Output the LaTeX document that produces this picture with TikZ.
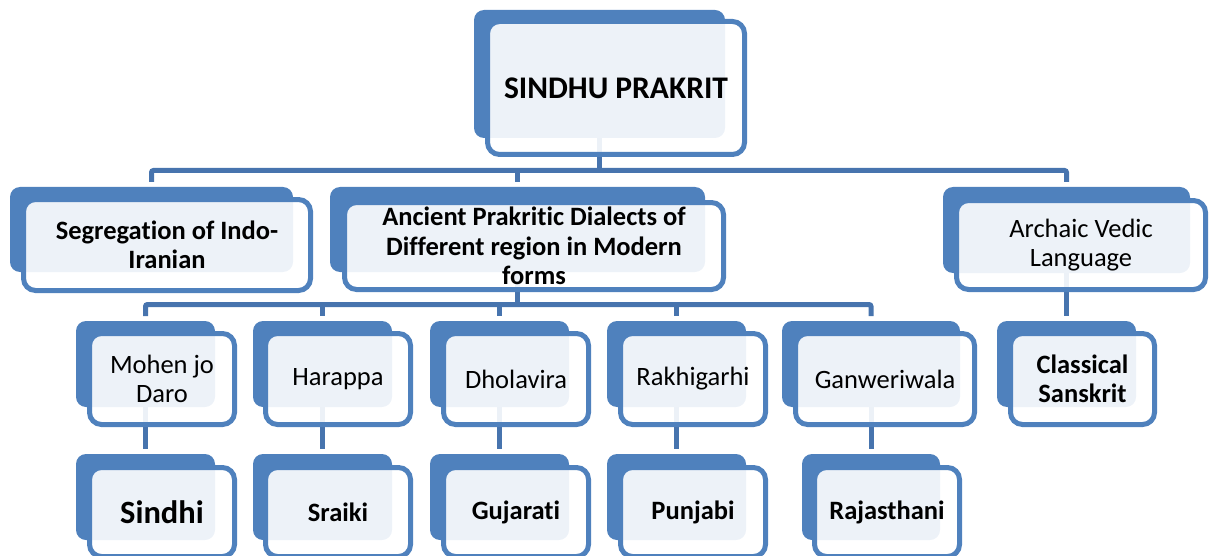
\documentclass[tikz,border=0pt]{standalone}
\usepackage{fontspec}
\setmainfont{Carlito}[Ligatures={NoCommon}]
\definecolor{boxblue}{HTML}{4F81BD}
\definecolor{connblue}{HTML}{4774AE}
\newcommand\bigbold{\fontsize{31.5}{37}\selectfont\bfseries}
\newcommand\sinbold{\fontsize{32.5}{37}\selectfont\bfseries}
\newcommand\boldtext{\fontsize{26.5}{29.5}\selectfont\bfseries}
\newcommand\regtext{\fontsize{26.5}{29.5}\selectfont}
\tikzset{
  backbox/.style={fill=boxblue, draw=none, rounded corners=10pt, inner sep=0pt, outer sep=0pt},
  frontbox/.style={fill=white, fill opacity=0.9, text opacity=1, draw=boxblue, draw opacity=1,
    line width=5pt, rounded corners=12pt, inner sep=0pt, outer sep=0pt, align=center, text=black},
  conn/.style={draw=connblue, line width=5pt, rounded corners=2pt},
}
\begin{document}
\begin{tikzpicture}[x=1pt,y=-1pt]
\useasboundingbox (0,0) rectangle (1209,556);
\clip (0,0) rectangle (1209,556);
% back boxes (anchors for connectors)
\node[backbox, minimum width=251pt, minimum height=128pt] (top-b) at (599.5,74) {};
\node[backbox, minimum width=283pt, minimum height=85pt] (seg-b) at (151.5,229.5) {};
\node[backbox, minimum width=375pt, minimum height=85pt] (anc-b) at (517.5,229.5) {};
\node[backbox, minimum width=247pt, minimum height=86pt] (arc-b) at (1066.5,230) {};
\node[backbox, minimum width=139pt, minimum height=86pt] (moh-b) at (145.5,364) {};
\node[backbox, minimum width=139pt, minimum height=86pt] (har-b) at (322.5,364) {};
\node[backbox, minimum width=139pt, minimum height=86pt] (dho-b) at (499.5,364) {};
\node[backbox, minimum width=139pt, minimum height=86pt] (rak-b) at (676.5,364) {};
\node[backbox, minimum width=178pt, minimum height=86pt] (gan-b) at (871,364) {};
\node[backbox, minimum width=139pt, minimum height=86pt] (cla-b) at (1066.5,364) {};
\node[backbox, minimum width=139pt, minimum height=86pt] (sin-b) at (145.5,497) {};
\node[backbox, minimum width=139pt, minimum height=86pt] (sra-b) at (322.5,497) {};
\node[backbox, minimum width=139pt, minimum height=86pt] (guj-b) at (499.5,497) {};
\node[backbox, minimum width=139pt, minimum height=86pt] (pun-b) at (676.5,497) {};
\node[backbox, minimum width=138pt, minimum height=86pt] (raj-b) at (871,497) {};
% connectors (drawn behind the front boxes)
\coordinate (bus1) at (0,170.5);
\coordinate (bus2) at (0,304.5);
\draw[conn] ([yshift=5pt]seg-b.north) |- (arc-b.north |- bus1) -- ([yshift=5pt]arc-b.north);
\draw[conn] (top-b.south) -- (top-b.south |- bus1);
\draw[conn] (anc-b.north |- bus1) -- ([yshift=5pt]anc-b.north);
\draw[conn] ([yshift=5pt]moh-b.north) |- (gan-b.north |- bus2) -- ([yshift=5pt]gan-b.north);
\draw[conn] (anc-b.south) -- (anc-b.south |- bus2);
\draw[conn] (har-b.north |- bus2) -- ([yshift=5pt]har-b.north);
\draw[conn] (dho-b.north |- bus2) -- ([yshift=5pt]dho-b.north);
\draw[conn] (rak-b.north |- bus2) -- ([yshift=5pt]rak-b.north);
\draw[conn] (arc-b.south) -- ([yshift=5pt]cla-b.north);
\draw[conn] (moh-b.south) -- ([yshift=5pt]sin-b.north);
\draw[conn] (har-b.south) -- ([yshift=5pt]sra-b.north);
\draw[conn] (dho-b.south) -- ([yshift=5pt]guj-b.north);
\draw[conn] (rak-b.south) -- ([yshift=5pt]pun-b.north);
\draw[conn] (gan-b.south) -- ([yshift=5pt]raj-b.north);
% front boxes with text
\node[frontbox, minimum width=257pt, minimum height=133pt, font=\bigbold] (top) at (616,88) {SINDHU PRAKRIT};
\node[frontbox, minimum width=287pt, minimum height=91pt, font=\boldtext] (seg) at (167,245) {Segregation of Indo-\\Iranian};
\node[frontbox, minimum width=379pt, minimum height=87pt, font=\boldtext] (anc) at (534,246) {Ancient Prakritic Dialects of\\Different region in Modern\\forms};
\node[frontbox, minimum width=249pt, minimum height=89pt, font=\regtext] (arc) at (1081,245) {Archaic Vedic\\Language};
\node[frontbox, minimum width=145pt, minimum height=91pt, font=\regtext] (moh) at (162,379) {Mohen jo\\Daro};
\node[frontbox, minimum width=145pt, minimum height=91pt, font=\regtext] (har) at (338,379) {Harappa};
\node[frontbox, minimum width=145pt, minimum height=91pt, font=\regtext] (dho) at (516,379) {Dholavira};
\node[frontbox, minimum width=145pt, minimum height=91pt, font=\regtext] (rak) at (693,379) {Rakhigarhi};
\node[frontbox, minimum width=179pt, minimum height=91pt, font=\regtext] (gan) at (885,379) {Ganweriwala};
\node[frontbox, minimum width=144pt, minimum height=91pt, font=\boldtext] (cla) at (1082.5,379) {Classical\\Sanskrit};
\node[frontbox, minimum width=145pt, minimum height=89pt, font=\sinbold] (sin) at (162,512) {Sindhi};
\node[frontbox, minimum width=145pt, minimum height=89pt, font=\boldtext] (sra) at (338,512) {Sraiki};
\node[frontbox, minimum width=145pt, minimum height=89pt, font=\boldtext] (guj) at (516,512) {Gujarati};
\node[frontbox, minimum width=145pt, minimum height=89pt, font=\boldtext] (pun) at (693,512) {Punjabi};
\node[frontbox, minimum width=145pt, minimum height=89pt, font=\boldtext] (raj) at (887,512) {Rajasthani};
\end{tikzpicture}
\end{document}
